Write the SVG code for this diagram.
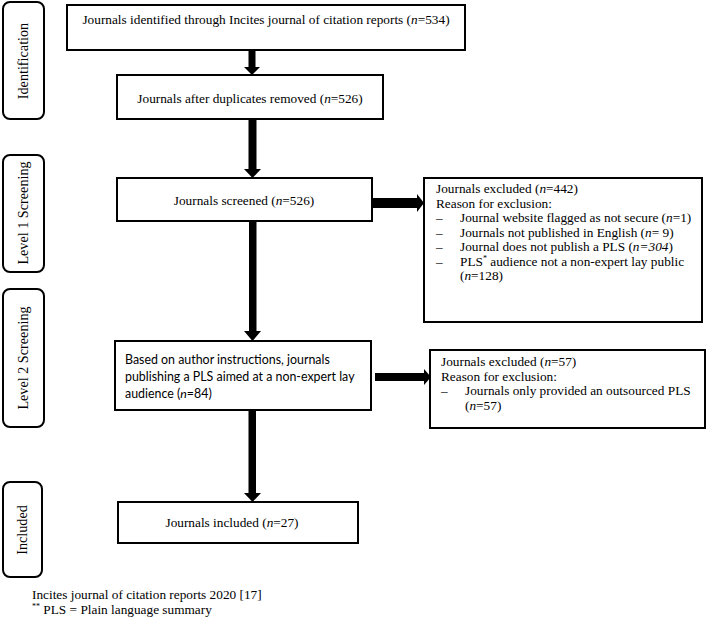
<svg xmlns="http://www.w3.org/2000/svg" width="709" height="618" viewBox="0 0 709 618">
<style>
.box{fill:#fff;stroke:#000;stroke-width:2}
.lab{fill:#fff;stroke:#000;stroke-width:2}
.t{font-family:"Liberation Serif","Times New Roman",serif;font-size:13.3px;fill:#000}
.v{font-family:"Liberation Serif","Times New Roman",serif;font-size:14.2px;fill:#000}
.s{font-family:Lato,"Liberation Sans",sans-serif;font-size:12.4px;fill:#000}
.i{font-style:italic}
.arr{fill:#000}
</style>
<rect width="709" height="618" fill="#fff"/>
<g id="stage-identification"><rect class="lab" x="3" y="2" width="41" height="117" rx="7"/><text class="v" transform="translate(28,61) rotate(-90)" text-anchor="middle">Identification</text></g>
<g id="stage-level1"><rect class="lab" x="3" y="155" width="41" height="117" rx="7"/><text class="v" transform="translate(28,213) rotate(-90)" text-anchor="middle">Level 1  Screening</text></g>
<g id="stage-level2"><rect class="lab" x="3" y="289" width="41" height="138" rx="7"/><text class="v" transform="translate(28,358) rotate(-90)" text-anchor="middle">Level 2 Screening</text></g>
<g id="stage-included"><rect class="lab" x="3" y="482" width="39" height="95" rx="7"/><text class="v" transform="translate(27,530) rotate(-90)" text-anchor="middle">Included</text></g>

<g id="n-identified"><rect class="box" x="67" y="5" width="398" height="45"/><text class="t" x="266" y="24" text-anchor="middle">Journals identified through Incites journal of citation reports (<tspan class="i">n</tspan>=534)</text></g>
<g id="n-dedup"><rect class="box" x="117" y="75" width="266" height="44"/><text class="t" x="250" y="103" text-anchor="middle">Journals after duplicates removed (<tspan class="i">n</tspan>=526)</text></g>
<g id="n-screened"><rect class="box" x="117" y="178" width="255" height="43"/><text class="t" x="244" y="205" text-anchor="middle">Journals screened (<tspan class="i">n</tspan>=526)</text></g>
<g id="n-excl1"><rect class="box" x="424" y="178" width="278" height="144"/>
<text class="t" x="436" y="193">Journals excluded (<tspan class="i">n</tspan>=442)</text>
<text class="t" x="436" y="207.5">Reason for exclusion:</text>
<text class="t" x="436" y="222">–</text><text class="t" x="460" y="222">Journal website flagged as not secure (<tspan class="i">n</tspan>=1)</text>
<text class="t" x="436" y="236.5">–</text><text class="t" x="460" y="236.5">Journals not published in English (<tspan class="i">n</tspan>= 9)</text>
<text class="t" x="436" y="251">–</text><text class="t" x="460" y="251">Journal does not publish a PLS (<tspan class="i">n=304</tspan>)</text>
<text class="t" x="436" y="265.5">–</text><text class="t" x="460" y="265.5">PLS<tspan font-size="8" dy="-5">*</tspan><tspan dy="5"> audience not a non-expert lay public</tspan></text>
<text class="t" x="460" y="280">(<tspan class="i">n</tspan>=128)</text>
</g>
<g id="n-level2"><rect class="box" x="115" y="341" width="256" height="69"/>
<text class="s" x="125" y="364">Based on author instructions, journals</text>
<text class="s" x="125" y="381">publishing a PLS aimed at a non-expert lay</text>
<text class="s" x="125" y="398">audience (<tspan class="i">n</tspan>=84)</text>
</g>
<g id="n-excl2"><rect class="box" x="430" y="350" width="275" height="78"/>
<text class="t" x="441" y="366">Journals excluded (<tspan class="i">n</tspan>=57)</text>
<text class="t" x="441" y="380.5">Reason for exclusion:</text>
<text class="t" x="441" y="395">–</text><text class="t" x="465" y="395">Journals only provided an outsourced PLS</text>
<text class="t" x="465" y="409.5">(<tspan class="i">n</tspan>=57)</text>
</g>
<g id="n-included"><rect class="box" x="118" y="502" width="240" height="41"/><text class="t" x="232" y="527" text-anchor="middle">Journals included (<tspan class="i">n</tspan>=27)</text></g>

<g id="connectors">
<polygon class="arr" points="248.5,50 255.5,50 255.5,67 260,67 252,75 244,67 248.5,67"/>
<polygon class="arr" points="248.5,119 256.5,119 256.5,169 261,169 252.5,178 244,169 248.5,169"/>
<polygon class="arr" points="372,198 417,198 417,194 424,203 417,212 417,208 372,208"/>
<polygon class="arr" points="249,221 256.5,221 256.5,331 261,331 252.5,341 244,331 249,331"/>
<polygon class="arr" points="375,373 424,373 424,369 431,377 424,385 424,381 375,381"/>
<polygon class="arr" points="248.5,410 256,410 256,493 261,493 252.5,502 244,493 248.5,493"/>
</g>

<text class="t" x="32" y="599">Incites journal of citation reports 2020 [17]</text>
<text class="t" x="32" y="614"><tspan font-size="8" dy="-5">**</tspan><tspan dy="5"> PLS = Plain language summary</tspan></text>
</svg>
